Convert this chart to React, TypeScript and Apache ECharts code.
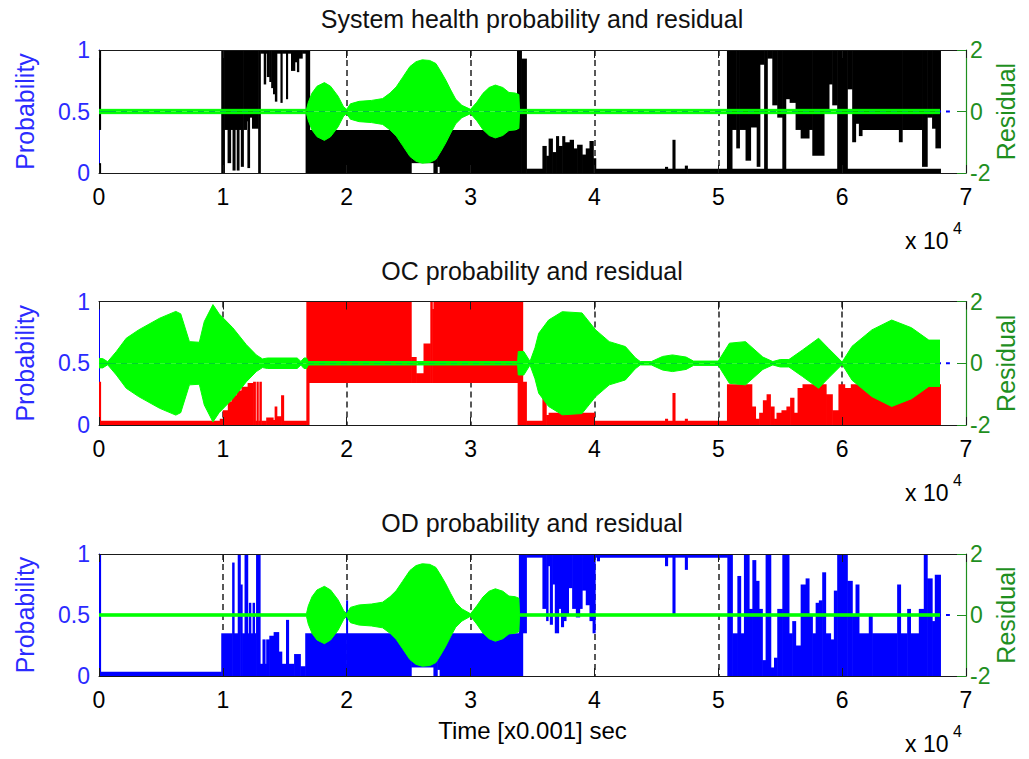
import React, { useEffect, useRef } from "react";
import * as echarts from "echarts";

// [x (x10^4), low, high]; a band holds from this x until the next entry's x. null = no band.
type Step = [number, number | null, number | null];

const titles = [
  "System health probability and residual",
  "OC probability and residual",
  "OD probability and residual",
];
const xLabel = "Time [x0.001] sec";

// Panel 1: system health probability (black)
const healthTop: Step[] = [
  [0, 0.35, 1], [0.012, null, null],
  [0.987, 0, 1], [1.012, 0.35, 1], [1.038, 0.08, 1], [1.062, 0.35, 1], [1.078, 0.02, 1],
  [1.098, 0.35, 1], [1.112, 0.02, 1], [1.13, 0.35, 1], [1.145, 0.05, 1], [1.165, 0.35, 1],
  [1.19, 0.42, 1], [1.198, 0.04, 1], [1.215, 0.45, 1], [1.235, 0.36, 1], [1.285, 0, 1],
  [1.302, 0.97, 1], [1.33, 0.72, 1], [1.345, 0.97, 1], [1.355, 0.78, 1], [1.375, 0.74, 1],
  [1.39, 0.69, 1], [1.405, 0.64, 1], [1.42, 0.58, 1], [1.435, 0.97, 1], [1.465, 0.57, 1],
  [1.478, 0.97, 1], [1.51, 0.6, 1], [1.522, 0.97, 1], [1.55, 0.83, 1], [1.58, 0.9, 1],
  [1.598, 0.82, 1], [1.612, 0.93, 1], [1.64, 0.97, 1], [1.668, 0, 1],
  [1.7, 0, 0.35], [2.52, 0.08, 0.35], [2.7, 0, 0.35], [2.73, 0.05, 0.35], [2.75, 0, 0.35],
  [3.375, 0, 1], [3.41, 0, 0.93], [3.45, 0, 0.035],
  [3.58, 0, 0.22], [3.61, 0, 0.14], [3.63, 0, 0.28], [3.66, 0, 0.17], [3.69, 0, 0.3],
  [3.71, 0, 0.22], [3.74, 0, 0.3], [3.76, 0, 0.25], [3.8, 0, 0.27], [3.83, 0, 0.2],
  [3.86, 0, 0.23], [3.9, 0, 0.15], [3.93, 0, 0.2], [3.96, 0, 0.26], [3.99, 0, 0.12],
  [4.01, 0, 0.035], [4.57, 0, 0.05], [4.59, 0, 0.035], [4.63, 0, 0.27], [4.65, 0, 0.035],
  [4.73, 0, 0.06], [4.75, 0, 0.035],
  [5.07, 0, 1], [5.11, 0.35, 1], [5.145, 0.2, 1], [5.17, 0.35, 1], [5.22, 0.1, 1],
  [5.26, 0.37, 1], [5.31, 0.05, 1], [5.335, 0.88, 1], [5.37, 0, 1], [5.395, 0.93, 1],
  [5.436, 0.55, 1], [5.476, 0.45, 1], [5.517, 0, 1], [5.544, 0.6, 1], [5.576, 0.57, 1],
  [5.624, 0.35, 1], [5.665, 0.28, 1], [5.732, 0.35, 1], [5.759, 0.14, 1], [5.853, 0.5, 1],
  [5.893, 0.72, 1], [5.92, 0.55, 1], [5.96, 0, 1], [6.041, 0.68, 1], [6.081, 0.25, 1],
  [6.108, 0.4, 1], [6.135, 0.3, 1], [6.16, 0.35, 1], [6.458, 0.25, 1], [6.484, 0.35, 1],
  [6.645, 0.05, 1], [6.686, 0.45, 1], [6.726, 0.36, 1], [6.753, 0.2, 1], [6.793, null, null],
];
const healthBase: Step[] = [
  [0, 0, 0.08], [0.012, null, null],
  [5.11, 0, 0.035], [6.793, null, null],
];

// Panel 2: OC probability (red)
const ocBand: Step[] = [
  [0, 0, 0.35], [0.012, 0, 0.035],
  [0.975, 0, 0.05], [1.0, 0, 0.12], [1.04, 0, 0.19], [1.07, 0, 0.24], [1.11, 0, 0.28],
  [1.15, 0, 0.31], [1.2, 0, 0.34], [1.244, 0, 0.35], [1.262, 0, 0.035], [1.272, 0, 0.35],
  [1.285, 0, 0.035], [1.295, 0, 0.35], [1.31, 0, 0.035], [1.35, 0, 0.06], [1.405, 0, 0.04],
  [1.418, 0, 0.15], [1.435, 0, 0.07], [1.47, 0, 0.24], [1.49, 0, 0.035],
  [1.674, 0, 1], [1.695, 0.34, 1], [2.52, 0.34, 0.55], [2.56, 0.34, 0.42], [2.62, 0.34, 0.66],
  [2.675, 0.34, 1], [2.69, 0.34, 0.94], [2.7, 0.34, 1],
  [3.38, 0, 1], [3.42, 0, 0.35], [3.45, 0, 0.035], [3.58, 0, 0.22], [3.61, 0, 0.08],
  [3.63, 0, 0.1], [4.0, 0, 0.035], [4.57, 0, 0.05], [4.59, 0, 0.035], [4.63, 0, 0.26],
  [4.65, 0, 0.035], [4.73, 0, 0.05], [4.75, 0, 0.035],
  [5.07, 0, 0.33], [5.27, 0, 0.15], [5.3, 0, 0.05], [5.33, 0, 0.1], [5.36, 0, 0.2],
  [5.39, 0, 0.25], [5.42, 0, 0.15], [5.45, 0, 0.05], [5.47, 0, 0.1], [5.51, 0, 0.12],
  [5.55, 0, 0.15], [5.58, 0, 0.22], [5.61, 0, 0.1], [5.64, 0, 0.3], [5.68, 0, 0.33],
  [5.87, 0, 0.25], [5.92, 0, 0.12], [5.97, 0, 0.33], [6.02, 0, 0.3], [6.07, 0, 0.33],
  [6.793, null, null],
];

// Panel 3: OD probability (blue)
const odBand: Step[] = [
  [0, 0, 1], [0.012, 0, 0.035],
  [0.987, 0, 0.35], [1.075, 0, 0.93], [1.09, 0, 0.35], [1.12, 0, 1], [1.14, 0, 0.75],
  [1.155, 0, 0.35], [1.175, 0, 1], [1.2, 0, 0.35], [1.21, 0, 0.6], [1.225, 0, 0.35],
  [1.24, 0, 0.6], [1.255, 0, 0.35], [1.268, 0, 1], [1.3, 0, 0.1], [1.32, 0, 0.3],
  [1.34, 0, 0.1], [1.35, 0, 0.3], [1.375, 0, 0.33], [1.41, 0, 0.36], [1.45, 0, 0.2],
  [1.475, 0, 0.1], [1.51, 0, 0.46], [1.53, 0, 0.1], [1.575, 0, 0.18], [1.625, 0, 0.08],
  [1.665, 0, 0.35], [1.995, 0, 0.62], [2.005, 0, 0.35], [2.52, 0.07, 0.35], [2.7, 0, 0.35],
  [2.73, 0.05, 0.35], [2.75, 0, 0.35],
  [3.39, 0, 1], [3.42, 0.35, 1], [3.45, 0.97, 1],
  [3.58, 0.55, 1], [3.61, 0.45, 1], [3.625, 0.9, 1], [3.64, 0.42, 1], [3.66, 0.75, 1],
  [3.68, 0.35, 1], [3.71, 0.55, 1], [3.73, 0.4, 1], [3.75, 0.45, 1], [3.77, 0.5, 1],
  [3.79, 0.72, 1], [3.82, 0.55, 1], [3.85, 0.48, 1], [3.88, 0.55, 1], [3.9, 0.7, 1],
  [3.93, 0.58, 1], [3.96, 0.45, 1], [3.985, 0.35, 1], [4.005, 0.97, 1], [4.02, 0.94, 1],
  [4.04, 0.97, 1], [4.57, 0.9, 1], [4.59, 0.97, 1], [4.63, 0.5, 1], [4.65, 0.97, 1],
  [4.73, 0.87, 1], [4.75, 0.97, 1],
  [5.073, 0, 1], [5.113, 0, 0.35], [5.154, 0, 0.82], [5.18, 0, 0.35], [5.207, 0, 1],
  [5.248, 0, 0.55], [5.275, 0, 0.95], [5.302, 0, 0.78], [5.328, 0, 0.55], [5.355, 0, 0.13],
  [5.382, 0, 1], [5.423, 0, 0.07], [5.45, 0, 0.15], [5.476, 0, 0.55], [5.517, 0, 1],
  [5.57, 0, 0.35], [5.597, 0, 0.45], [5.624, 0, 0.25], [5.665, 0, 0.75], [5.705, 0, 0.8],
  [5.732, 0, 0.5], [5.759, 0, 0.35], [5.786, 0, 0.6], [5.812, 0, 0.62], [5.839, 0, 0.85],
  [5.866, 0, 0.35], [5.906, 0, 0.3], [5.933, 0, 0.7], [5.96, 0, 1], [6.041, 0, 0.78],
  [6.081, 0, 0.5], [6.108, 0, 0.75], [6.135, 0, 0.35], [6.215, 0, 0.5], [6.242, 0, 0.35],
  [6.444, 0, 0.75], [6.471, 0, 0.35], [6.525, 0, 0.55], [6.551, 0, 0.35], [6.619, 0, 0.55],
  [6.659, 0, 1], [6.686, 0, 0.8], [6.726, 0, 0.45], [6.748, 0, 0.83], [6.793, null, null],
];

// Residual envelopes (amplitude of the oscillating residual)
const healthResidX = [0, 1.675, 1.69, 1.72, 1.76, 1.82, 1.87, 1.93, 1.975, 2.0, 2.03, 2.1, 2.2, 2.29, 2.35, 2.4, 2.45, 2.51, 2.56, 2.61, 2.67, 2.72, 2.76, 2.8, 2.84, 2.88, 2.93, 3.0, 3.05, 3.1, 3.15, 3.2, 3.26, 3.31, 3.36, 3.39, 3.395, 6.79];
const healthResidAmp = [0.07, 0.07, 0.3, 0.6, 0.82, 0.94, 0.82, 0.5, 0.15, 0.07, 0.25, 0.33, 0.36, 0.42, 0.6, 0.8, 1.1, 1.46, 1.62, 1.68, 1.66, 1.56, 1.3, 1.02, 0.7, 0.4, 0.2, 0.07, 0.3, 0.59, 0.78, 0.86, 0.78, 0.62, 0.6, 0.55, 0.07, 0.07];

const ocResidX = [0, 0.03, 0.07, 0.14, 0.22, 0.32, 0.49, 0.62, 0.66, 0.73, 0.81, 0.85, 0.92, 0.97, 1.08, 1.19, 1.27, 1.32, 1.36, 1.6, 1.63, 1.655, 1.675, 1.69, 3.38, 3.385, 3.43, 3.48, 3.52, 3.55, 3.63, 3.74, 3.9, 4.01, 4.12, 4.25, 4.33, 4.37, 4.46, 4.55, 4.63, 4.74, 4.8, 5.0, 5.09, 5.22, 5.36, 5.44, 5.5, 5.57, 5.68, 5.81, 5.89, 6.0, 6.08, 6.24, 6.4, 6.56, 6.7, 6.79];
const ocResidAmp = [0.15, 0.15, 0.05, 0.38, 0.81, 1.08, 1.46, 1.68, 1.6, 0.7, 0.68, 1.35, 1.9, 1.6, 1.15, 0.6, 0.27, 0.14, 0.17, 0.17, 0.06, 0.17, 0.17, 0.055, 0.055, 0.38, 0.38, 0.06, 0.5, 0.97, 1.4, 1.67, 1.63, 1.08, 0.7, 0.54, 0.18, 0.055, 0.055, 0.22, 0.27, 0.2, 0.07, 0.07, 0.65, 0.7, 0.2, 0.055, 0.12, 0.12, 0.43, 0.81, 0.48, 0.04, 0.55, 1.08, 1.4, 1.15, 0.75, 0.75];

const odResidX = [0, 1.675, 1.69, 1.72, 1.76, 1.82, 1.87, 1.93, 1.975, 2.0, 2.03, 2.1, 2.2, 2.29, 2.35, 2.4, 2.45, 2.51, 2.56, 2.61, 2.67, 2.72, 2.76, 2.8, 2.84, 2.88, 2.93, 3.0, 3.05, 3.1, 3.15, 3.2, 3.26, 3.31, 3.36, 3.39, 3.395, 6.79];
const odResidAmp = [0.04, 0.04, 0.3, 0.6, 0.82, 0.94, 0.82, 0.5, 0.15, 0.04, 0.25, 0.33, 0.36, 0.42, 0.6, 0.8, 1.1, 1.46, 1.62, 1.68, 1.66, 1.56, 1.3, 1.02, 0.7, 0.4, 0.2, 0.04, 0.3, 0.59, 0.78, 0.86, 0.78, 0.62, 0.6, 0.55, 0.04, 0.04];

// Blue dashed residual reference line (visible past the end of the green trace)
const refLineX = [0, 6.87];
const refLineY = [0, 0];

const FONT = "'Liberation Sans', Arial, Helvetica, sans-serif";
const BLUE = "#0000ff";
const BLUE_TXT = "#2b2bff";
const GREEN_AX = "#1f8f1f";
const LIME = "#00ff00";
const AXC = "#1a1a1a";

function toRects(steps: Step[]) {
  const out: number[][] = [];
  for (let i = 0; i < steps.length - 1; i++) {
    const [x0, lo, hi] = steps[i];
    if (lo == null || hi == null) continue;
    out.push([x0, steps[i + 1][0], lo, hi]);
  }
  return out;
}

function bandSeries(steps: Step[], color: string, xi: number, yi: number) {
  return {
    type: "custom",
    xAxisIndex: xi,
    yAxisIndex: yi,
    z: 2,
    clip: true,
    silent: true,
    encode: { x: [0, 1], y: [2, 3] },
    data: toRects(steps),
    renderItem: (params: any, api: any) => {
      const p0 = api.coord([api.value(0), api.value(3)]);
      const p1 = api.coord([api.value(1), api.value(2)]);
      const w = Math.max(p1[0] - p0[0], 1.4) + 0.6;
      return {
        type: "rect",
        shape: { x: p0[0], y: p0[1], width: w, height: Math.max(p1[1] - p0[1], 1) },
        style: { fill: color },
      };
    },
  };
}

function envSeries(xs: number[], amps: number[], sign: number, xi: number, yi: number) {
  return {
    type: "line",
    xAxisIndex: xi,
    yAxisIndex: yi,
    z: 3,
    silent: true,
    showSymbol: false,
    symbol: "none",
    smooth: false,
    data: xs.map((x, i) => [x, sign * amps[i]]),
    lineStyle: { color: LIME, width: 1 },
    areaStyle: { color: LIME, opacity: 1, origin: "auto" },
  };
}

const gridTops = [50, 301.5, 554];
const gridHeights = [123, 123.5, 122];

export default function App() {
  const ref = useRef<HTMLDivElement>(null);
  useEffect(() => {
    if (!ref.current) return;
    const chart = echarts.init(ref.current, undefined, { renderer: "svg" });

    const grids: any[] = [];
    const xAxes: any[] = [];
    const yAxes: any[] = [];
    const series: any[] = [];
    const graphics: any[] = [];

    const bands = [
      [{ s: healthTop, c: "#000000" }, { s: healthBase, c: "#000000" }],
      [{ s: ocBand, c: "#ff0000" }],
      [{ s: odBand, c: BLUE }],
    ];
    const resid = [
      [healthResidX, healthResidAmp],
      [ocResidX, ocResidAmp],
      [odResidX, odResidAmp],
    ];

    for (let i = 0; i < 3; i++) {
      grids.push({ left: 99, right: 63, top: gridTops[i], height: gridHeights[i], containLabel: false, outerBoundsMode: "none" });
      const xBase = 3 * i;
      const yBase = 2 * i;
      xAxes.push({
        gridIndex: i, type: "value", min: 0, max: 7, interval: 1, position: "bottom", z: 5,
        axisLine: { show: true, onZero: false, lineStyle: { color: AXC, width: 1 } },
        axisTick: { show: true, inside: true, length: 8, lineStyle: { color: AXC } },
        axisLabel: { color: "#000", fontSize: 23, fontFamily: FONT, margin: 12 },
        splitLine: { show: false },
        name: i === 2 ? xLabel : "",
        nameLocation: "middle",
        nameGap: 42,
        nameMoveOverlap: false,
        nameTextStyle: { color: "#000", fontSize: 24, fontFamily: FONT },
      });
      xAxes.push({
        gridIndex: i, type: "value", min: 0, max: 7, interval: 1, position: "top", z: 5,
        axisLine: { show: true, onZero: false, lineStyle: { color: AXC, width: 1 } },
        axisTick: { show: true, inside: true, length: 8, lineStyle: { color: AXC } },
        axisLabel: { show: false },
        splitLine: { show: false },
      });
      xAxes.push({
        gridIndex: i, type: "value", min: 0, max: 7, interval: 1, position: "bottom", z: 0,
        axisLine: { show: false }, axisTick: { show: false }, axisLabel: { show: false },
        splitLine: { show: true, showMinLine: false, showMaxLine: false, lineStyle: { color: "#222", type: [6, 4], width: 1.5 } },
      });
      yAxes.push({
        gridIndex: i, type: "value", min: 0, max: 1, interval: 0.5, position: "left", z: 1,
        axisLine: { show: true, onZero: false, lineStyle: { color: BLUE, width: 1 } },
        axisTick: { show: true, inside: true, length: 12, lineStyle: { color: BLUE } },
        axisLabel: { color: BLUE_TXT, fontSize: 23, fontFamily: FONT, margin: 9, formatter: (v: number) => String(v) },
        splitLine: { show: false },
        name: "Probability", nameLocation: "middle", nameRotate: 90, nameGap: 62, nameMoveOverlap: false,
        nameTextStyle: { color: BLUE_TXT, fontSize: 25, fontFamily: FONT },
      });
      yAxes.push({
        gridIndex: i, type: "value", min: -2, max: 2, interval: 2, position: "right", z: 5,
        axisLine: { show: true, onZero: false, lineStyle: { color: GREEN_AX, width: 1.2 } },
        axisTick: { show: true, inside: true, length: 9, lineStyle: { color: GREEN_AX } },
        axisLabel: { color: GREEN_AX, fontSize: 23, fontFamily: FONT, margin: 4 },
        splitLine: { show: false },
        name: "Residual", nameLocation: "middle", nameRotate: 90, nameGap: 27, nameMoveOverlap: false,
        nameTextStyle: { color: GREEN_AX, fontSize: 25, fontFamily: FONT },
      });

      for (const b of bands[i]) series.push(bandSeries(b.s as Step[], b.c, xBase, yBase));
      series.push({
        type: "line", xAxisIndex: xBase, yAxisIndex: yBase + 1, z: 2, silent: true,
        showSymbol: false, symbol: "none",
        data: refLineX.map((x, k) => [x, refLineY[k]]),
        lineStyle: { color: BLUE, width: 2, type: [6, 5] },
      });
      const [rx, ra] = resid[i];
      series.push(envSeries(rx, ra, 1, xBase, yBase + 1));
      series.push(envSeries(rx, ra, -1, xBase, yBase + 1));

      const bottom = gridTops[i] + gridHeights[i];
      graphics.push({
        type: "text", x: 532, y: gridTops[i] - 31,
        style: { text: titles[i], font: `25px ${FONT}`, fill: "#111", align: "center", verticalAlign: "middle", textAlign: "center", textVerticalAlign: "middle" },
      });
      graphics.push({
        type: "text", x: 905, y: bottom + 68,
        style: { text: "x 10", font: `23px ${FONT}`, fill: "#000", align: "left", verticalAlign: "middle", textAlign: "left", textVerticalAlign: "middle" },
      });
      graphics.push({
        type: "text", x: 953, y: bottom + 55,
        style: { text: "4", font: `16px ${FONT}`, fill: "#000", align: "left", verticalAlign: "middle", textAlign: "left", textVerticalAlign: "middle" },
      });
    }

    chart.setOption({
      animation: false,
      backgroundColor: "#ffffff",
      textStyle: { fontFamily: FONT },
      grid: grids,
      xAxis: xAxes,
      yAxis: yAxes,
      series,
      graphic: graphics,
    });
    return () => chart.dispose();
  }, []);

  return (
    <div
      ref={ref}
      style={{ position: "absolute", left: 0, top: 0, width: 1029, height: 759, background: "#fff" }}
    />
  );
}
